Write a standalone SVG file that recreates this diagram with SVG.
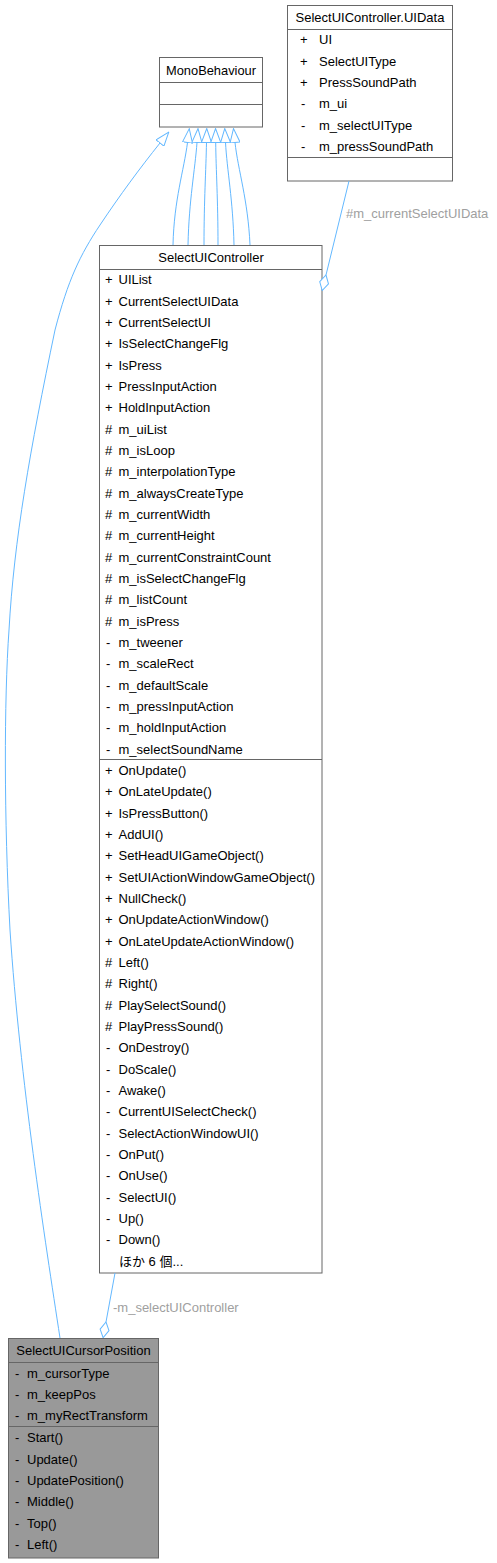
<svg xmlns="http://www.w3.org/2000/svg" width="497" height="1563" viewBox="0 0 497 1563">
<style>
.box{fill:#ffffff;stroke:#666666;stroke-width:1}
.gbox{fill:#999999;stroke:#666666;stroke-width:1}
.sep{stroke:#666666;stroke-width:1}
text{font-family:"Liberation Sans",Arial,"Noto Sans CJK JP",sans-serif;font-size:13px;fill:#000000}
.c{text-anchor:middle}
.edge{fill:none;stroke:#63b8ff;stroke-width:1}
.ext{marker-end:url(#tri)}
.comp{marker-end:url(#dia)}
.lbl{fill:#a0a0a0}
</style>
<defs>
<marker id="tri" markerUnits="userSpaceOnUse" viewBox="0 0 15 11" markerWidth="15" markerHeight="11" refX="0.5" refY="5.5" orient="auto">
<path d="M0.5,0.5 L14.5,5.5 L0.5,10.5 Z" fill="#ffffff" stroke="#63b8ff" stroke-width="1"/>
</marker>
<marker id="dia" markerUnits="userSpaceOnUse" viewBox="0 0 17 11" markerWidth="17" markerHeight="11" refX="0.5" refY="5.5" orient="auto">
<path d="M0.5,5.5 L8.5,1 L16.5,5.5 L8.5,10 Z" fill="#ffffff" stroke="#63b8ff" stroke-width="1"/>
</marker>
</defs>

<g id="node-MonoBehaviour">
<rect class="box" x="159.5" y="57.5" width="103" height="69.5"/>
<line class="sep" x1="159.5" y1="82.5" x2="262.5" y2="82.5"/>
<line class="sep" x1="159.5" y1="104.5" x2="262.5" y2="104.5"/>
<text class="c" x="211" y="74.5" textLength="90" lengthAdjust="spacingAndGlyphs">MonoBehaviour</text>
</g>

<g id="node-UIData">
<rect class="box" x="287.5" y="5.5" width="165" height="175.5"/>
<line class="sep" x1="287.5" y1="29.5" x2="452.5" y2="29.5"/>
<line class="sep" x1="287.5" y1="157.5" x2="452.5" y2="157.5"/>
<text class="c" x="370" y="21.5">SelectUIController.UIData</text>
<text x="300" y="44.2">+</text><text x="319" y="44.2">UI</text>
<text x="300" y="65.5">+</text><text x="319" y="65.5">SelectUIType</text>
<text x="300" y="86.9">+</text><text x="319" y="86.9">PressSoundPath</text>
<text x="301" y="108.2">-</text><text x="319" y="108.2">m_ui</text>
<text x="301" y="129.5">-</text><text x="319" y="129.5">m_selectUIType</text>
<text x="301" y="150.9">-</text><text x="319" y="150.9">m_pressSoundPath</text>
</g>

<g id="node-SelectUIController">
<rect class="box" x="99.5" y="245.5" width="222.5" height="1027.5"/>
<line class="sep" x1="99.5" y1="269.5" x2="322" y2="269.5"/>
<line class="sep" x1="99.5" y1="759.5" x2="322" y2="759.5"/>
<text class="c" x="211" y="261.5">SelectUIController</text>
<g>
<text x="105" y="284.2">+</text><text x="118.5" y="284.2">UIList</text>
<text x="105" y="305.5">+</text><text x="118.5" y="305.5">CurrentSelectUIData</text>
<text x="105" y="326.9">+</text><text x="118.5" y="326.9">CurrentSelectUI</text>
<text x="105" y="348.2">+</text><text x="118.5" y="348.2">IsSelectChangeFlg</text>
<text x="105" y="369.5">+</text><text x="118.5" y="369.5">IsPress</text>
<text x="105" y="390.9">+</text><text x="118.5" y="390.9">PressInputAction</text>
<text x="105" y="412.2">+</text><text x="118.5" y="412.2">HoldInputAction</text>
<text x="105" y="433.5">#</text><text x="118.5" y="433.5">m_uiList</text>
<text x="105" y="454.8">#</text><text x="118.5" y="454.8">m_isLoop</text>
<text x="105" y="476.2">#</text><text x="118.5" y="476.2">m_interpolationType</text>
<text x="105" y="497.5">#</text><text x="118.5" y="497.5">m_alwaysCreateType</text>
<text x="105" y="518.8">#</text><text x="118.5" y="518.8">m_currentWidth</text>
<text x="105" y="540.2">#</text><text x="118.5" y="540.2">m_currentHeight</text>
<text x="105" y="561.5">#</text><text x="118.5" y="561.5">m_currentConstraintCount</text>
<text x="105" y="582.8">#</text><text x="118.5" y="582.8">m_isSelectChangeFlg</text>
<text x="105" y="604.2">#</text><text x="118.5" y="604.2">m_listCount</text>
<text x="105" y="625.5">#</text><text x="118.5" y="625.5">m_isPress</text>
<text x="106" y="646.8">-</text><text x="118.5" y="646.8">m_tweener</text>
<text x="106" y="668.2">-</text><text x="118.5" y="668.2">m_scaleRect</text>
<text x="106" y="689.5">-</text><text x="118.5" y="689.5">m_defaultScale</text>
<text x="106" y="710.8">-</text><text x="118.5" y="710.8">m_pressInputAction</text>
<text x="106" y="732.2">-</text><text x="118.5" y="732.2">m_holdInputAction</text>
<text x="106" y="753.5">-</text><text x="118.5" y="753.5">m_selectSoundName</text>
</g>
<g>
<text x="105" y="774.8">+</text><text x="118.5" y="774.8">OnUpdate()</text>
<text x="105" y="796.1">+</text><text x="118.5" y="796.1">OnLateUpdate()</text>
<text x="105" y="817.5">+</text><text x="118.5" y="817.5">IsPressButton()</text>
<text x="105" y="838.8">+</text><text x="118.5" y="838.8">AddUI()</text>
<text x="105" y="860.1">+</text><text x="118.5" y="860.1">SetHeadUIGameObject()</text>
<text x="105" y="881.5">+</text><text x="118.5" y="881.5">SetUIActionWindowGameObject()</text>
<text x="105" y="902.8">+</text><text x="118.5" y="902.8">NullCheck()</text>
<text x="105" y="924.1">+</text><text x="118.5" y="924.1">OnUpdateActionWindow()</text>
<text x="105" y="945.5">+</text><text x="118.5" y="945.5">OnLateUpdateActionWindow()</text>
<text x="105" y="966.8">#</text><text x="118.5" y="966.8">Left()</text>
<text x="105" y="988.1">#</text><text x="118.5" y="988.1">Right()</text>
<text x="105" y="1009.5">#</text><text x="118.5" y="1009.5">PlaySelectSound()</text>
<text x="105" y="1030.8">#</text><text x="118.5" y="1030.8">PlayPressSound()</text>
<text x="106" y="1052.1">-</text><text x="118.5" y="1052.1">OnDestroy()</text>
<text x="106" y="1073.5">-</text><text x="118.5" y="1073.5">DoScale()</text>
<text x="106" y="1094.8">-</text><text x="118.5" y="1094.8">Awake()</text>
<text x="106" y="1116.1">-</text><text x="118.5" y="1116.1">CurrentUISelectCheck()</text>
<text x="106" y="1137.5">-</text><text x="118.5" y="1137.5">SelectActionWindowUI()</text>
<text x="106" y="1158.8">-</text><text x="118.5" y="1158.8">OnPut()</text>
<text x="106" y="1180.1">-</text><text x="118.5" y="1180.1">OnUse()</text>
<text x="106" y="1201.5">-</text><text x="118.5" y="1201.5">SelectUI()</text>
<text x="106" y="1222.8">-</text><text x="118.5" y="1222.8">Up()</text>
<text x="106" y="1244.1">-</text><text x="118.5" y="1244.1">Down()</text>
<text x="119" y="1265.5">ほか 6 個...</text>
</g>
</g>

<g id="node-SelectUICursorPosition">
<rect class="gbox" x="8.5" y="1338.5" width="150" height="219.5"/>
<line class="sep" x1="8.5" y1="1362.5" x2="158.5" y2="1362.5"/>
<line class="sep" x1="8.5" y1="1426.5" x2="158.5" y2="1426.5"/>
<text class="c" x="83.5" y="1354.5">SelectUICursorPosition</text>
<text x="15" y="1377.5">-</text><text x="27" y="1377.5">m_cursorType</text>
<text x="15" y="1398.8">-</text><text x="27" y="1398.8">m_keepPos</text>
<text x="15" y="1420.1">-</text><text x="27" y="1420.1">m_myRectTransform</text>
<text x="15" y="1442.2">-</text><text x="27" y="1442.2">Start()</text>
<text x="15" y="1463.5">-</text><text x="27" y="1463.5">Update()</text>
<text x="15" y="1484.8">-</text><text x="27" y="1484.8">UpdatePosition()</text>
<text x="15" y="1506.2">-</text><text x="27" y="1506.2">Middle()</text>
<text x="15" y="1527.5">-</text><text x="27" y="1527.5">Top()</text>
<text x="15" y="1548.8">-</text><text x="27" y="1548.8">Left()</text>
</g>

<g id="connectors">
<path class="edge ext" d="M173,245 C174,200 184,170 187.5,142.5"/>
<path class="edge ext" d="M188,245 C189,200 195,170 197,142.5"/>
<path class="edge ext" d="M204,245 C204,200 206,170 206.5,142.5"/>
<path class="edge ext" d="M218,245 C218,200 216,170 215.7,142.5"/>
<path class="edge ext" d="M234,245 C233,200 227,170 225.5,142.5"/>
<path class="edge ext" d="M250,245 C248,200 238,170 235,142.5"/>
<path class="edge ext" d="M60,1338 C45,1240 20,1080 10,930 C4,820 4,700 9,630 C14,540 30,450 55,330 C68,280 80,255 100,225 C120,195 140,168 160,143"/>
<path class="edge comp" d="M349,181 L326,275"/>
<text class="lbl" x="346" y="217.5">#m_currentSelectUIData</text>
<path class="edge comp" d="M115,1273 L106,1322"/>
<text class="lbl" x="113" y="1311.5">-m_selectUIController</text>
</g>
</svg>
